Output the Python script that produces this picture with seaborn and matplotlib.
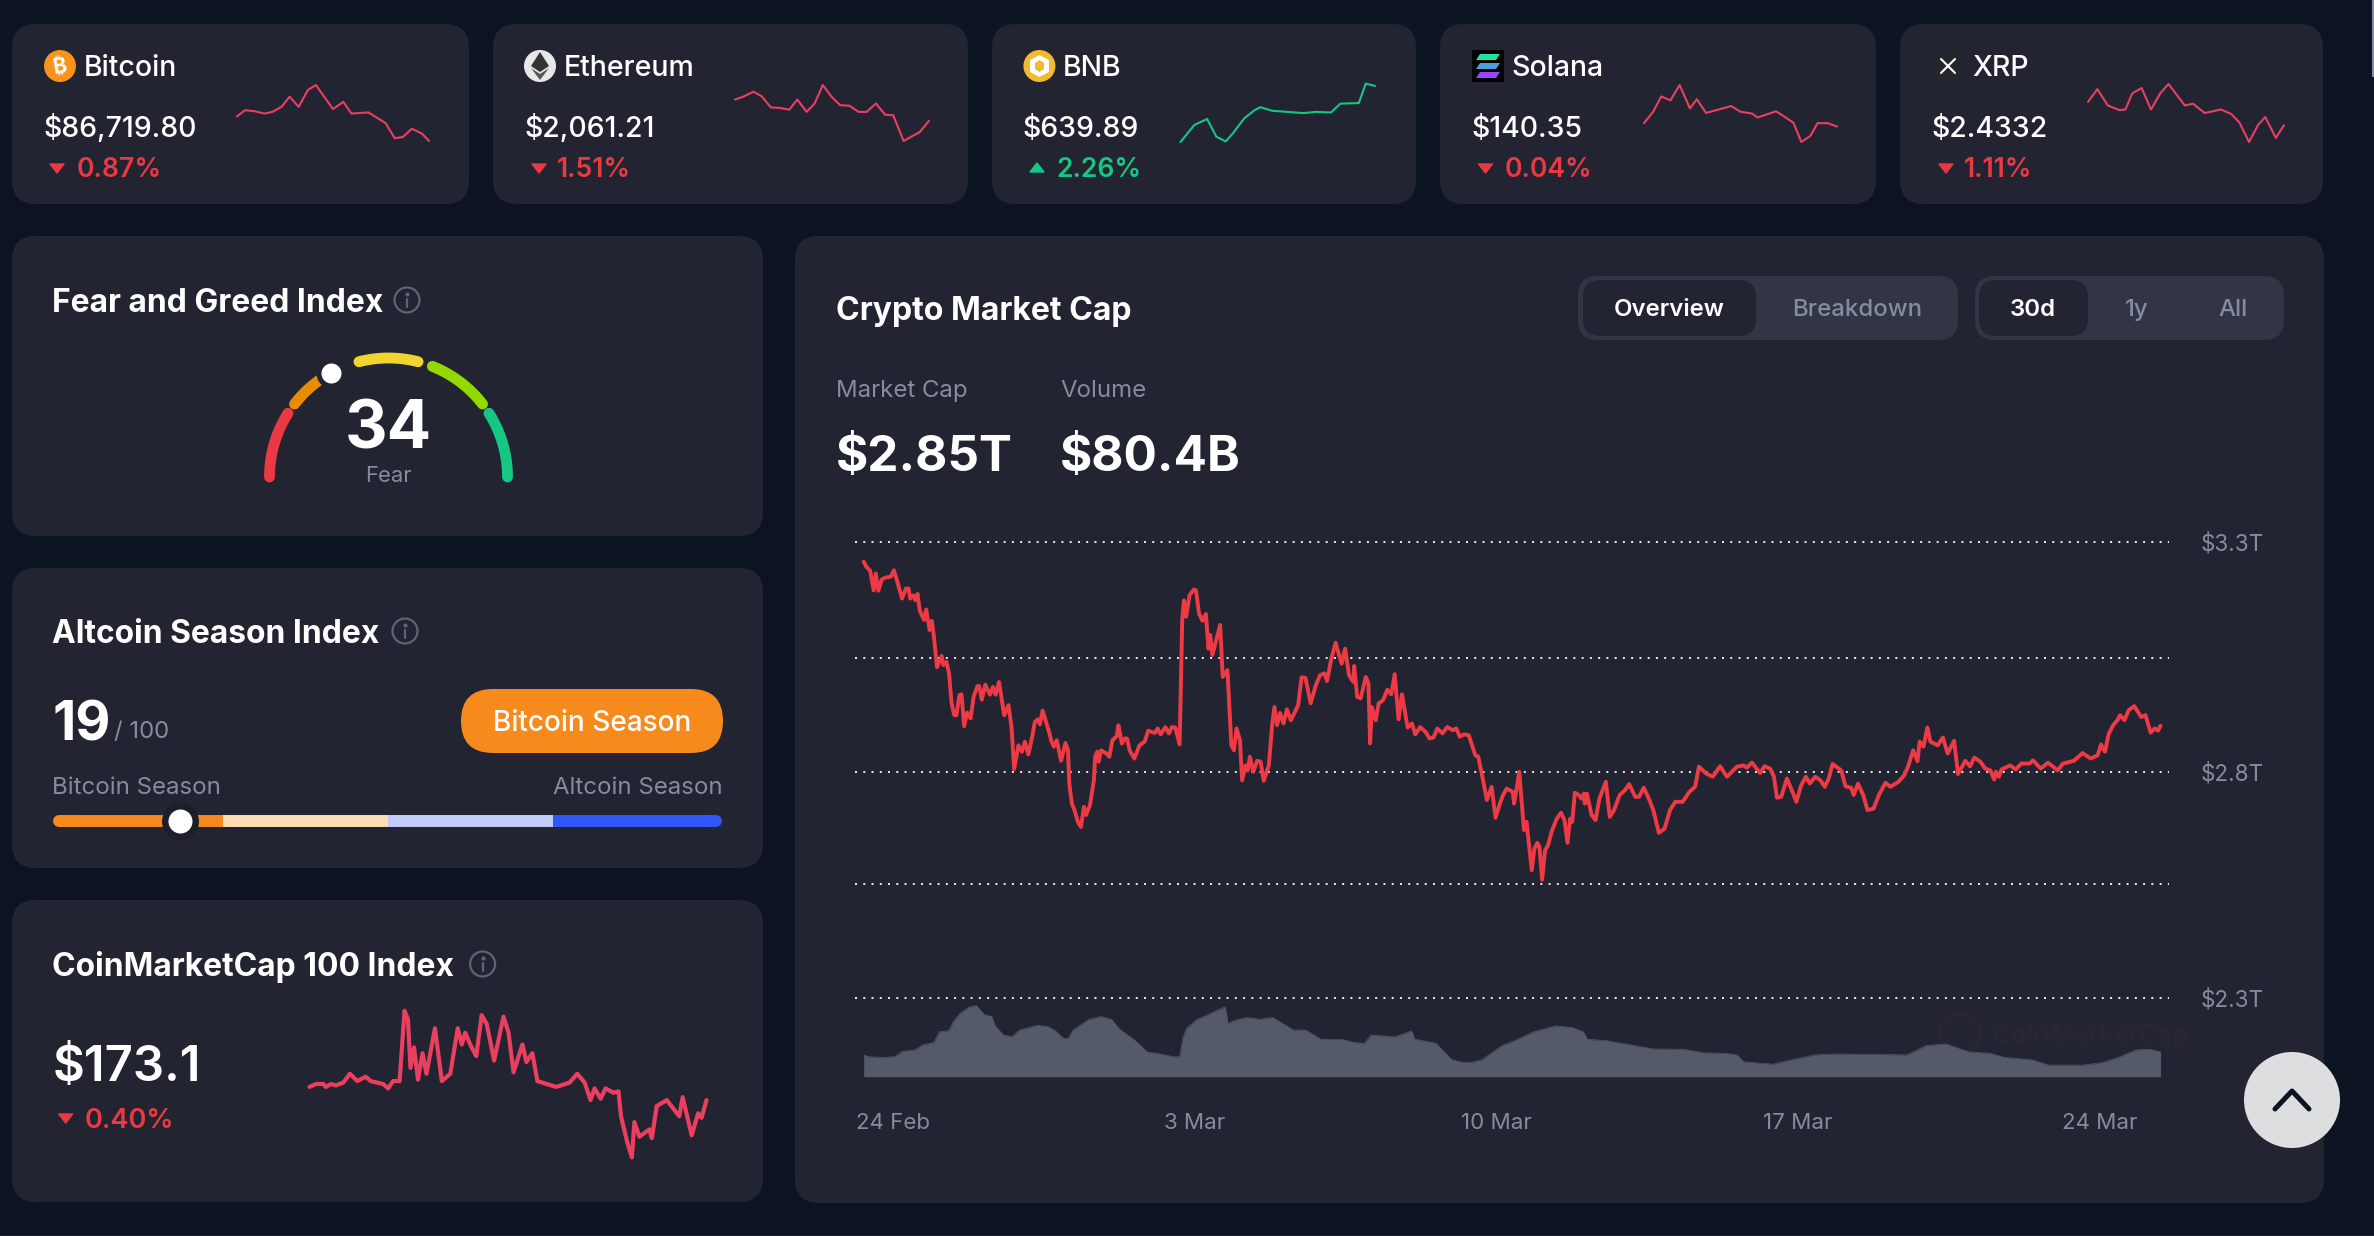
import numpy as np
import pandas as pd
import matplotlib
matplotlib.use("Agg")
import matplotlib.pyplot as plt
from matplotlib.patches import FancyBboxPatch, Polygon, Circle, Rectangle
import seaborn as sns

# ---------- market cap (trillions USD) by day offset from 24 Feb ----------
cap_days = [-0.68,-0.62,-0.53,-0.45,-0.40,-0.34,-0.26,-0.17,-0.05,0.02,0.09,0.21,0.30,0.36,0.40,0.47,0.52,0.57,0.62,0.72,0.77,0.85,0.90,0.95,1.02,1.13,1.17,1.24,1.30,1.36,1.42,1.47,1.54,1.59,1.65,1.72,1.80,1.87,1.96,2.00,2.06,2.14,2.25,2.32,2.38,2.46,2.58,2.68,2.75,2.81,2.91,2.99,3.06,3.14,3.23,3.29,3.36,3.41,3.47,3.61,3.67,3.73,3.80,3.90,4.00,4.06,4.09,4.15,4.21,4.29,4.36,4.43,4.48,4.57,4.66,4.69,4.74,4.77,4.83,4.95,5.02,5.09,5.19,5.23,5.31,5.38,5.43,5.49,5.60,5.72,5.84,5.92,6.08,6.14,6.21,6.32,6.40,6.47,6.55,6.65,6.71,6.75,6.80,6.88,6.98,7.03,7.10,7.18,7.26,7.32,7.36,7.41,7.50,7.59,7.65,7.76,7.85,7.91,7.97,8.05,8.10,8.18,8.23,8.28,8.36,8.45,8.53,8.60,8.72,8.80,8.85,8.91,8.98,9.06,9.14,9.23,9.31,9.40,9.48,9.57,9.69,9.81,9.91,10.01,10.07,10.17,10.27,10.34,10.41,10.49,10.58,10.68,10.70,10.77,10.85,10.97,11.03,11.07,11.11,11.20,11.27,11.37,11.47,11.56,11.64,11.73,11.81,11.94,12.04,12.12,12.23,12.36,12.45,12.54,12.63,12.75,12.86,12.99,13.07,13.15,13.25,13.36,13.51,13.58,13.66,13.78,13.89,13.98,14.08,14.15,14.24,14.38,14.41,14.47,14.53,14.64,14.70,14.82,14.88,14.95,15.00,15.06,15.13,15.20,15.28,15.40,15.50,15.58,15.65,15.71,15.76,15.82,15.91,15.97,16.03,16.05,16.10,16.21,16.30,16.39,16.54,16.63,16.73,16.86,16.99,17.08,17.22,17.31,17.42,17.55,17.64,17.77,17.90,18.03,18.15,18.32,18.48,18.61,18.70,18.87,19.02,19.19,19.35,19.58,19.73,19.81,19.93,20.12,20.22,20.35,20.44,20.51,20.61,20.74,20.87,20.96,21.07,21.18,21.27,21.40,21.52,21.62,21.71,21.80,22.00,22.10,22.23,22.29,22.39,22.51,22.61,22.75,22.88,23.03,23.14,23.33,23.46,23.55,23.67,23.77,23.82,23.91,24.00,24.07,24.24,24.36,24.47,24.62,24.71,24.88,24.99,25.09,25.23,25.34,25.46,25.55,25.59,25.66,25.72,25.92,26.05,26.18,26.37,26.45,26.63,26.80,27.02,27.15,27.40,27.60,27.79,27.95,28.03,28.12,28.21,28.31,28.41,28.47,28.57,28.67,28.80,28.96,29.06,29.18,29.28,29.35,29.41]
cap_values = [3.257,3.246,3.237,3.194,3.231,3.193,3.218,3.222,3.224,3.238,3.216,3.176,3.198,3.198,3.176,3.183,3.172,3.186,3.150,3.129,3.152,3.107,3.127,3.092,3.025,3.050,3.030,3.037,3.012,2.946,2.920,2.920,2.964,2.966,2.896,2.926,2.913,2.960,2.984,2.984,2.954,2.987,2.965,2.982,2.965,2.993,2.920,2.942,2.894,2.802,2.854,2.840,2.862,2.834,2.873,2.905,2.911,2.900,2.930,2.887,2.865,2.851,2.865,2.820,2.859,2.843,2.770,2.726,2.712,2.686,2.675,2.719,2.701,2.723,2.777,2.829,2.840,2.818,2.843,2.836,2.829,2.865,2.874,2.898,2.858,2.869,2.869,2.843,2.825,2.854,2.862,2.886,2.881,2.891,2.878,2.894,2.880,2.894,2.893,2.856,3.129,3.172,3.136,3.183,3.196,3.194,3.143,3.127,3.142,3.066,3.096,3.052,3.085,3.118,3.004,3.019,2.854,2.843,2.891,2.865,2.777,2.810,2.799,2.829,2.796,2.820,2.818,2.776,2.810,2.902,2.938,2.898,2.925,2.902,2.933,2.909,2.924,2.942,3.003,3.002,2.946,2.986,3.008,3.012,2.995,3.044,3.079,3.055,3.033,3.066,3.008,2.993,3.028,2.960,2.957,3.004,2.990,2.858,2.938,2.909,2.946,2.953,2.976,2.966,3.010,2.911,2.966,2.893,2.902,2.878,2.894,2.883,2.869,2.871,2.891,2.880,2.894,2.887,2.891,2.873,2.878,2.876,2.832,2.829,2.792,2.734,2.763,2.695,2.726,2.744,2.759,2.752,2.726,2.759,2.796,2.668,2.686,2.580,2.627,2.640,2.631,2.559,2.624,2.635,2.664,2.693,2.706,2.690,2.640,2.693,2.686,2.750,2.745,2.737,2.748,2.726,2.748,2.701,2.690,2.737,2.774,2.697,2.712,2.745,2.756,2.769,2.741,2.741,2.761,2.734,2.712,2.662,2.671,2.712,2.730,2.730,2.752,2.763,2.807,2.792,2.785,2.808,2.785,2.807,2.810,2.805,2.816,2.793,2.808,2.803,2.785,2.739,2.741,2.781,2.752,2.730,2.766,2.785,2.770,2.785,2.777,2.763,2.781,2.813,2.799,2.764,2.761,2.745,2.770,2.745,2.712,2.715,2.746,2.772,2.763,2.774,2.788,2.807,2.843,2.819,2.862,2.851,2.893,2.862,2.854,2.871,2.836,2.864,2.791,2.820,2.808,2.827,2.818,2.803,2.799,2.779,2.796,2.785,2.801,2.810,2.801,2.814,2.814,2.821,2.803,2.816,2.799,2.814,2.820,2.837,2.825,2.832,2.856,2.840,2.880,2.898,2.909,2.920,2.909,2.931,2.940,2.916,2.920,2.882,2.891,2.886,2.897]

# ---------- volume (billions USD) ----------
vol_days = [-0.68,-0.56,-0.26,0.04,0.21,0.51,0.69,0.95,1.07,1.30,1.40,1.54,1.75,1.93,2.11,2.29,2.37,2.56,2.76,2.94,3.35,3.59,3.77,3.95,4.06,4.18,4.54,4.83,5.07,5.25,5.60,5.90,6.20,6.49,6.65,6.73,6.81,7.03,7.26,7.50,7.71,7.77,7.91,8.21,8.51,8.80,9.10,9.28,9.57,9.93,10.40,10.70,10.94,11.09,11.65,12.03,12.10,12.60,12.95,13.13,13.39,13.66,14.13,14.43,14.86,15.37,15.76,16.02,16.11,16.54,16.99,17.64,18.35,18.80,19.32,19.58,19.73,20.42,20.74,21.39,21.84,23.52,23.98,24.43,24.95,25.46,25.79,26.43,26.82,27.60,28.05,28.44,28.83,29.15,29.41]
vol_values = [70,64,62,64,81,86,102,110,144,148,177,201,223,229,200,193,163,134,128,150,165,161,147,123,123,150,184,193,184,153,118,79,73,64,64,128,155,182,196,212,224,171,180,190,184,190,166,150,150,120,120,110,107,134,128,147,121,107,56,48,45,54,100,116,144,163,158,144,120,116,105,89,88,77,75,70,48,40,51,70,73,70,100,105,80,75,62,54,37,37,45,62,86,88,80]

grid_values = [3.3, 3.046, 2.796, 2.55, 2.3]
grid_labels = ["$3.3T", "", "$2.8T", "", "$2.3T"]
date_ticks = [0, 7, 14, 21, 28]
date_labels = ["24 Feb", "3 Mar", "10 Mar", "17 Mar", "24 Mar"]

# ---------- seven day sparklines: hours, percent of own range ----------
btc_hours = [0,7,16,24,31,39,46,54,62,69,84,93,100,115,130,138,145,153,162,168]
btc_range = [44,55,53,49,52,61,79,61,91,100,57,70,49,51,32,5,7,22,13,0]
eth_hours = [0,7,16,23,31,39,47,54,62,69,76,84,91,99,107,114,122,130,137,146,160,168]
eth_range = [74,79,88,80,60,59,56,74,52,67,100,78,64,63,52,52,67,47,46,0,16,36]
bnb_hours = [0,12,23,31,39,45,55,64,69,79,106,117,130,138,154,160,168]
bnb_range = [0,29,39,9,1,14,40,54,59,53,49,51,50,65,66,99,95]
sol_hours = [0,8,15,23,31,40,46,54,65,76,84,94,99,115,130,137,145,151,160,168]
sol_range = [33,53,80,73,100,59,75,51,57,63,53,50,43,54,34,0,11,33,33,27]
xrp_hours = [0,8,17,27,32,38,46,54,62,69,83,90,100,114,123,130,138,146,152,161,168]
xrp_range = [69,91,63,55,56,84,93,56,84,100,63,66,50,56,48,33,0,30,43,7,29]

coin_names = ["Bitcoin", "Ethereum", "BNB", "Solana", "XRP"]
coin_prices = ["$86,719.80", "$2,061.21", "$639.89", "$140.35", "$2.4332"]
coin_changes = ["0.87%", "1.51%", "2.26%", "0.04%", "1.11%"]
coin_up = [False, False, True, False, False]

# ---------- CMC 100 index: days, percent of own range ----------
cmc_days = [0,0.49,1.05,1.24,1.62,1.99,2.56,3.05,3.61,4.25,4.62,5.56,5.94,6.32,6.81,7.18,7.44,7.63,7.90,8.20,8.54,8.84,9.48,10.00,10.64,11.20,11.51,11.77,12.14,12.60,13.01,13.39,13.95,14.66,15.04,15.42,16.09,16.39,16.84,17.22,18.65,19.66,20.23,20.79,21.24,21.54,22.00,22.37,22.97,23.35,23.54,23.99,24.36,24.55,24.93,25.68,25.87,26.24,27.00,27.94,28.20,28.88,29.37,29.63,30.00]
cmc_range = [48,50,50,48,50,49,51,57,52,55,52,50,47,52,52,100,94,61,75,53,71,57,88,52,57,88,77,85,77,69,97,91,66,96,85,58,77,65,71,52,48,51,57,51,39,47,40,47,44,45,28,11,0,24,14,19,13,35,39,28,41,15,30,27,39]

# ---------- gauges ----------
fear_value = 34
fear_segments = [0, 18, 21, 31, 42, 58, 62, 79, 82, 100]
fear_colors = ["#ea3943", "#ea8c00", "#f3d42f", "#93d900", "#16c784"]
alt_value = 19
alt_breaks = [0, 25.4, 50, 74.7, 100]
alt_colors = ["#f68a1c", "#fedcb5", "#c1ccfd", "#3156fa"]

BG, CARD, GRAY = "#0d1421", "#222531", "#858ca2"
RED, GREEN, PINK = "#ea3943", "#16c784", "#ea3f5f"
W, H = 2374, 1236

sns.set_theme(style="dark", rc={"axes.facecolor": "none", "figure.facecolor": BG})
plt.rcParams["font.family"] = ["Inter", "DejaVu Sans"]
fig = plt.figure(figsize=(W / 100, H / 100), dpi=100, facecolor=BG)

def axes_px(x0, y0, x1, y1, **kw):
    a = fig.add_axes([x0 / W, 1 - y1 / H, (x1 - x0) / W, (y1 - y0) / H], **kw)
    a.patch.set_visible(False)
    return a

bg = axes_px(0, 0, W, H)
bg.set_xlim(0, W); bg.set_ylim(H, 0); bg.axis("off")

def card(x0, y0, x1, y1, r=24, color=CARD, z=1):
    bg.add_patch(FancyBboxPatch((x0 + r, y0 + r), x1 - x0 - 2 * r, y1 - y0 - 2 * r,
                                boxstyle=f"round,pad={r},rounding_size={r}", fc=color, ec="none", zorder=z))

def T(x, y, s, size, color="white", weight="normal", ha="left", **kw):
    """y is the centre of the capitals, size in pixels"""
    return bg.text(x, y + 0.3636 * size, s, fontsize=size * 0.72, color=color,
                   fontweight=weight, ha=ha, va="baseline", zorder=5, **kw)

def tri(cx, cy, up, color):
    s = -1 if up else 1
    bg.add_patch(Polygon([(cx - 7, cy - s * 4), (cx + 7, cy - s * 4), (cx, cy + s * 5)], closed=True,
                         fc=color, ec=color, lw=1, joinstyle="round", zorder=5))

def spark(box, xs, ys, color, lw=1.3, xlim=(0, 168)):
    a = axes_px(*box)
    sns.lineplot(x=xs, y=ys, ax=a, color=color, lw=lw, estimator=None, sort=False, clip_on=False)
    a.set_xlim(*xlim); a.set_ylim(0, 100); a.axis("off")
    return a

def info(cx, cy):
    bg.add_patch(Circle((cx, cy), 12.5, fc="none", ec="#5d6478", lw=1.6, zorder=5))
    bg.plot([cx, cx], [cy - 1, cy + 7], color="#5d6478", lw=1.6, zorder=5, solid_capstyle="round")
    bg.plot([cx], [cy - 6], "o", ms=2, color="#5d6478", zorder=5)

# scrollbar sliver at the top right, faint rule at the foot
bg.add_patch(Rectangle((2372, 0), 2, 77, fc="#858ca2", ec="none", zorder=2))
bg.add_patch(Rectangle((0, 1235), W, 1, fc="#222531", ec="none", zorder=2))

# ---------- top cards ----------
tops = [(12, 469), (493, 968), (992, 1416), (1440, 1876), (1900, 2323)]
name_x = [84, 564, 1063, 1511, 1972]
price_x = [43.5, 524, 1023, 1471.5, 1931.5]
pct_x = [77, 557, 1056, 1505, 1964]
tri_x = [57, 539, 1037, 1485.5, 1946]
boxes = [(237, 85, 429, 141), (735, 85, 929, 141), (1180.5, 83, 1375, 142), (1644, 85, 1837, 142), (2088, 84, 2284, 142)]
series = [(btc_hours, btc_range), (eth_hours, eth_range), (bnb_hours, bnb_range), (sol_hours, sol_range), (xrp_hours, xrp_range)]
for i, (x0, x1) in enumerate(tops):
    card(x0, 24, x1, 204)
    T(name_x[i], 66, coin_names[i], 28.5, weight=500)
    T(price_x[i], 127, coin_prices[i], 28.4, weight=500)
    c = GREEN if coin_up[i] else RED
    T(pct_x[i], 167, coin_changes[i], 26.5, color=c, weight=600)
    tri(tri_x[i], 168, coin_up[i], c)
    spark(boxes[i], series[i][0], series[i][1], GREEN if coin_up[i] else PINK, lw=1.5)

# icons
bg.add_patch(Circle((60, 66), 16, fc="#f7931a", ec="none", zorder=5))
bg.text(60, 66.5, "₿", fontsize=15, color="white", ha="center", va="center",
        family=["Inter", "Roboto", "Noto Sans", "Open Sans", "Lato", "DejaVu Sans"], fontweight="bold", rotation=10, zorder=6)
bg.add_patch(Circle((540, 66), 16, fc="#e8e8ea", ec="none", zorder=5))
bg.add_patch(Polygon([(540, 52), (549, 66), (540, 72), (531, 66)], fc="#343434", ec="none", zorder=6))
bg.add_patch(Polygon([(531, 68), (540, 74), (549, 68), (540, 80)], fc="#555555", ec="none", zorder=6))
bg.add_patch(Circle((1039.4, 66), 16, fc="#f3ba2f", ec="none", zorder=5))
bg.add_patch(Polygon([(1039.4, 55), (1049, 60), (1049, 72), (1039.4, 77), (1030, 72), (1030, 60)], fc="white", ec="none", zorder=6))
bg.add_patch(Polygon([(1039.4, 60), (1044, 63), (1044, 69), (1039.4, 72), (1035, 69), (1035, 63)], fc="#f3ba2f", ec="none", zorder=7))
bg.add_patch(Rectangle((1472, 50), 32, 32, fc="black", ec="none", zorder=5))
for y, col in zip([57, 66, 75], ["#19e6a4", "#4aa0d8", "#9945ff"]):
    bg.add_patch(Polygon([(1480, y - 3), (1500, y - 3), (1496, y + 3), (1476, y + 3)], fc=col, ec="none", zorder=6))
bg.add_patch(Circle((1948, 66), 16, fc="#23272b", ec="none", zorder=5))
for a_, b_ in [((1941, 59), (1955, 73)), ((1955, 59), (1941, 73))]:
    bg.plot([a_[0], b_[0]], [a_[1], b_[1]], color="white", lw=1.5, zorder=6)

# ---------- left cards ----------
card(12, 236, 763, 536)
card(12, 568, 763, 868)
card(12, 900, 763, 1202)
T(52.5, 300, "Fear and Greed Index", 31.8, weight=700); info(407, 300)
T(52.5, 631, "Altcoin Season Index", 31.8, weight=700); info(405, 631)
T(52.5, 964, "CoinMarketCap 100 Index", 31.8, weight=700); info(482.6, 964)

# fear and greed gauge
cx, cy, r = 388.5, 477, 119
g = axes_px(cx - r, cy - r, cx + r, cy + r)
g.set_xlim(-1, 1); g.set_ylim(-1, 1); g.axis("off")
for i, col in enumerate(fear_colors):
    th = np.pi * (1 - np.linspace(fear_segments[2 * i], fear_segments[2 * i + 1], 40) / 100)
    g.plot(np.cos(th), np.sin(th), color=col, lw=7.8, solid_capstyle="round", clip_on=False)
tm = np.pi * (1 - fear_value / 100)
g.scatter([np.cos(tm)], [np.sin(tm)], s=(30 * .72) ** 2, color=CARD, lw=0, zorder=4, clip_on=False)
g.scatter([np.cos(tm)], [np.sin(tm)], s=(20 * .72) ** 2, color="white", lw=0, zorder=5, clip_on=False)
T(388.5, 425, str(fear_value), 66, weight=700, ha="center")
T(388.5, 474.5, "Fear", 22, color=GRAY, ha="center")

# altcoin season
T(52.5, 720.5, str(alt_value), 54, weight=700)
T(114, 729, "/ 100", 24, color=GRAY)
bg.add_patch(FancyBboxPatch((461 + 32, 689 + 32), 262 - 64, 0, boxstyle="round,pad=32,rounding_size=32", fc="#f68a1c", ec="none", zorder=3))
T(592, 721, "Bitcoin Season", 28, ha="center", weight=500)
T(52.5, 785.5, "Bitcoin Season", 24, color=GRAY)
T(723, 785.5, "Altcoin Season", 24, color=GRAY, ha="right")
b = axes_px(52.7, 815, 723, 827)
b.set_xlim(0, 100); b.set_ylim(-1, 1); b.axis("off")
b.plot([1, 3], [0, 0], color=alt_colors[0], lw=8.6, solid_capstyle="round")
b.plot([97, 99], [0, 0], color=alt_colors[3], lw=8.6, solid_capstyle="round")
for i, col in enumerate(alt_colors):
    b.plot([max(alt_breaks[i], 1), min(alt_breaks[i + 1], 99)], [0, 0], color=col, lw=8.6, solid_capstyle="butt")
b.scatter([alt_value], [0], s=(37 * .72) ** 2, color="#1c1f29", lw=0, zorder=4, clip_on=False)
b.scatter([alt_value], [0], s=(24 * .72) ** 2, color="white", lw=0, zorder=5, clip_on=False)

# cmc 100
T(52.5, 1063, "$173.1", 49, weight=600)
T(84.6, 1118, "0.40%", 27, color=RED, weight=600)
tri(65.7, 1118, False, RED)
spark((309.5, 1010.7, 706.5, 1157.3), cmc_days, cmc_range, PINK, lw=3, xlim=(0, 30))

# ---------- main card ----------
card(795, 236, 2324, 1203)
T(836, 308, "Crypto Market Cap", 32, weight=700)
card(1578, 276, 1958, 340, r=20, color="#323546", z=2)
card(1583, 280, 1756, 336, r=17, color=CARD, z=3)
card(1975, 276, 2284, 340, r=20, color="#323546", z=2)
card(1979, 280, 2088, 336, r=17, color=CARD, z=3)
T(1669, 307, "Overview", 24, weight=600, ha="center")
T(1857, 307, "Breakdown", 24, color=GRAY, weight=500, ha="center")
T(2033, 307, "30d", 24, weight=600, ha="center")
T(2137, 307, "1y", 24, color=GRAY, weight=500, ha="center")
T(2233, 307, "All", 24, color=GRAY, weight=500, ha="center")
T(836, 388.5, "Market Cap", 24, color=GRAY)
T(1060, 388.5, "Volume", 24, color=GRAY)
T(836, 453, "$2.85T", 49.5, weight=700)
T(1060, 453, "$80.4B", 49.5, weight=700)

# watermark
bg.add_patch(Circle((1960, 1033), 20, fc="none", ec="#262733", lw=3, zorder=2))
T(1993, 1035, "CoinMarketCap", 26, color="#262733", weight=600)

ax = axes_px(855, 542, 2169, 1076.7)
ax_vol = ax.twinx()
ax.set_zorder(ax_vol.get_zorder() + 1)
ax.patch.set_visible(False); ax_vol.patch.set_visible(False)

sns.lineplot(x=cap_days, y=cap_values, ax=ax, color="#ee3a45", lw=2.8, estimator=None, sort=False, zorder=3)
sns.lineplot(x=vol_days, y=vol_values, ax=ax_vol, color="#555a6b", lw=0.5, estimator=None, sort=False)
ax_vol.fill_between(vol_days, vol_values, 0, color="#555a6b", lw=0)

ax.set_xlim(-0.882, 29.606); ax.set_ylim(2.127, 3.3)
ax_vol.set_ylim(0, 1716); ax_vol.axis("off")
ax.set_xticks(date_ticks, date_labels)
ax.set_yticks(grid_values, grid_labels)
ax.yaxis.tick_right()
ax.tick_params(axis="x", length=0, pad=26, labelsize=22.3 * .72, colors=GRAY)
ax.tick_params(axis="y", length=0, pad=23, labelsize=22.5 * .72, colors=GRAY, labelright=True, labelleft=False)
ax.grid(axis="y", color="#e6e6e6", lw=1.45, linestyle=(0, (1, 3.1)))
ax.grid(axis="x", visible=False)
for gl in ax.get_ygridlines():
    gl.set_clip_on(False)
for s_ in ax.spines.values():
    s_.set_visible(False)
ax.set_xlabel(""); ax.set_ylabel("")

# scroll-top button
top = axes_px(2244, 1052, 2340, 1148)
top.set_xlim(0, 96); top.set_ylim(96, 0); top.axis("off"); top.set_zorder(10)
top.add_patch(Circle((48, 48), 48, fc="#dcdee0", ec="none"))
top.plot([31, 48, 65], [57, 39, 57], color="#0d1421", lw=3.6, solid_capstyle="round", solid_joinstyle="round")

fig.savefig("out.png", dpi=100, facecolor=BG)
